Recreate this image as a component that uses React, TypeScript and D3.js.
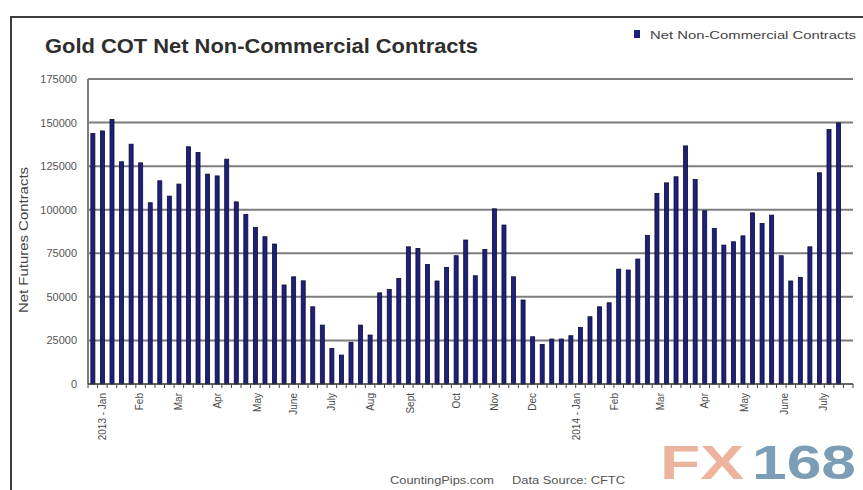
import { useEffect, useRef } from 'react';
import * as d3 from 'd3';

// weekly net non-commercial gold futures positions, Jan 2013 - Jul 2014
const netContracts = [
  143700, 145200, 151800, 127500, 137600, 126900, 104000, 116600, 107800, 114700,
  136100, 132800, 120400, 119400, 129000, 104500, 97300, 89800, 84500, 80300,
  56800, 61500, 59200, 44300, 33800, 20400, 16600, 23900, 33800, 28100,
  52300, 54300, 60600, 78700, 77800, 68600, 59100, 66900, 73600, 82600,
  62100, 77200, 100500, 91200, 61500, 48200, 27100, 22700, 25800, 25800,
  27700, 32500, 38600, 44300, 46600, 65900, 65400, 71700, 85300, 109300,
  115400, 118900, 136600, 117400, 99400, 89300, 79700, 81600, 85000, 98200,
  92100, 96900, 73600, 59100, 61200, 78700, 121200, 146000, 149800,
];

// the category axis has one more (empty) week slot after the last bar
const weekSlots = d3.range(80);

const monthLabels = [
  '2013 - Jan', 'Feb', 'Mar', 'Apr', 'May', 'June', 'July', 'Aug', 'Sept',
  'Oct', 'Nov', 'Dec', '2014 - Jan', 'Feb', 'Mar', 'Apr', 'May', 'June', 'July',
];
const monthWeeks = [1, 4.9, 9, 13, 17.2, 21, 25, 29, 33.2, 38, 42, 46, 50.6, 54.6, 59.4, 64, 68.2, 72.3, 76.4];

const yTicks = [0, 25000, 50000, 75000, 100000, 125000, 150000, 175000];

export default function App() {
  const svgRef = useRef<SVGSVGElement>(null);

  useEffect(() => {
    if (!svgRef.current) return;
    const svg = d3.select(svgRef.current);
    svg.selectAll('*').remove();

    const width = 863;
    const height = 490;
    const margin = { top: 79, right: 10, bottom: 106, left: 88 };
    const font = 'Arial, "Liberation Sans", sans-serif';

    svg.attr('width', width).attr('height', height);

    svg.append('rect').attr('width', width).attr('height', height).attr('fill', '#fff');

    // outer frame
    svg.append('path')
      .attr('d', `M11,${height} V17 H${width}`)
      .attr('fill', 'none')
      .attr('stroke', '#3c3c3c')
      .attr('stroke-width', 2);

    const x = d3.scaleBand<number>()
      .domain(weekSlots)
      .range([margin.left, width - margin.right])
      .paddingInner(0.58)
      .paddingOuter(0.3);

    const slot = d3.scaleLinear()
      .domain([0, weekSlots.length])
      .range([margin.left, width - margin.right]);

    const y = d3.scaleLinear()
      .domain([0, 175000])
      .range([height - margin.bottom, margin.top]);

    // gridlines
    svg.append('g')
      .selectAll('line')
      .data(yTicks.slice(1))
      .enter()
      .append('line')
      .attr('x1', margin.left)
      .attr('x2', width - margin.right)
      .attr('y1', d => y(d))
      .attr('y2', d => y(d))
      .attr('stroke', '#7d7d7d')
      .attr('stroke-width', 2);

    // left axis line
    svg.append('line')
      .attr('x1', margin.left)
      .attr('x2', margin.left)
      .attr('y1', y(175000))
      .attr('y2', y(0))
      .attr('stroke', '#7d7d7d')
      .attr('stroke-width', 2);

    // y tick labels
    svg.append('g')
      .selectAll('text')
      .data(yTicks)
      .enter()
      .append('text')
      .attr('x', 77)
      .attr('y', d => y(d) + 4)
      .attr('text-anchor', 'end')
      .attr('font-family', font)
      .attr('font-size', 11)
      .attr('fill', '#555')
      .text(d => String(d));

    // y axis title
    svg.append('text')
      .attr('transform', 'translate(28,240) rotate(-90)')
      .attr('text-anchor', 'middle')
      .attr('font-family', font)
      .attr('font-size', 12)
      .attr('fill', '#444')
      .attr('textLength', 146)
      .attr('lengthAdjust', 'spacingAndGlyphs')
      .text('Net Futures Contracts');

    // bars
    svg.append('g')
      .selectAll('rect')
      .data(netContracts)
      .enter()
      .append('rect')
      .attr('x', (_, i) => x(i) as number)
      .attr('y', d => y(d))
      .attr('width', x.bandwidth())
      .attr('height', d => y(0) - y(d))
      .attr('fill', '#1f1f7c')
      .attr('stroke', '#0b0b35')
      .attr('stroke-width', 0.8);

    // category axis with a tick between every week
    svg.append('line')
      .attr('x1', margin.left)
      .attr('x2', width - margin.right)
      .attr('y1', y(0))
      .attr('y2', y(0))
      .attr('stroke', '#333')
      .attr('stroke-width', 1.5);

    svg.append('g')
      .selectAll('line')
      .data(d3.range(weekSlots.length + 1))
      .enter()
      .append('line')
      .attr('x1', d => slot(d))
      .attr('x2', d => slot(d))
      .attr('y1', y(0))
      .attr('y2', y(0) + 4)
      .attr('stroke', '#444')
      .attr('stroke-width', 1);

    // month labels
    svg.append('g')
      .selectAll('text')
      .data(monthLabels)
      .enter()
      .append('text')
      .attr('transform', (_, i) => `translate(${slot(monthWeeks[i] + 0.5) + 3.5},393) rotate(-90)`)
      .attr('text-anchor', 'end')
      .attr('font-family', font)
      .attr('font-size', 10)
      .attr('fill', '#4a4a4a')
      .text(d => d);

    // title
    svg.append('text')
      .attr('x', 45)
      .attr('y', 53)
      .attr('font-family', font)
      .attr('font-size', 20)
      .attr('font-weight', 'bold')
      .attr('fill', '#2e2e2e')
      .attr('textLength', 433)
      .attr('lengthAdjust', 'spacingAndGlyphs')
      .text('Gold COT Net Non-Commercial Contracts');

    // legend
    svg.append('rect')
      .attr('x', 634)
      .attr('y', 30)
      .attr('width', 6)
      .attr('height', 8)
      .attr('fill', '#1f1f7c');

    svg.append('text')
      .attr('x', 650)
      .attr('y', 39)
      .attr('font-family', font)
      .attr('font-size', 11)
      .attr('fill', '#444')
      .attr('textLength', 206)
      .attr('lengthAdjust', 'spacingAndGlyphs')
      .text('Net Non-Commercial Contracts');

    // source line
    svg.append('text')
      .attr('x', 390)
      .attr('y', 484)
      .attr('font-family', font)
      .attr('font-size', 10)
      .attr('fill', '#555')
      .attr('textLength', 104)
      .attr('lengthAdjust', 'spacingAndGlyphs')
      .text('CountingPips.com');

    svg.append('text')
      .attr('x', 512)
      .attr('y', 484)
      .attr('font-family', font)
      .attr('font-size', 10)
      .attr('fill', '#555')
      .attr('textLength', 113)
      .attr('lengthAdjust', 'spacingAndGlyphs')
      .text('Data Source: CFTC');

    // FX168 watermark
    svg.append('text')
      .attr('x', 660)
      .attr('y', 479)
      .attr('font-family', font)
      .attr('font-size', 48)
      .attr('font-weight', 'bold')
      .attr('fill', '#eba78c')
      .attr('opacity', 0.85)
      .attr('textLength', 84)
      .attr('lengthAdjust', 'spacingAndGlyphs')
      .text('FX');

    svg.append('text')
      .attr('x', 752)
      .attr('y', 479)
      .attr('font-family', font)
      .attr('font-size', 48)
      .attr('font-weight', 'bold')
      .attr('fill', '#6d93ad')
      .attr('opacity', 0.9)
      .attr('textLength', 104)
      .attr('lengthAdjust', 'spacingAndGlyphs')
      .text('168');
  }, []);

  return (
    <div style={{ position: 'absolute', left: 0, top: 0 }}>
      <svg ref={svgRef} style={{ display: 'block' }}></svg>
    </div>
  );
}
